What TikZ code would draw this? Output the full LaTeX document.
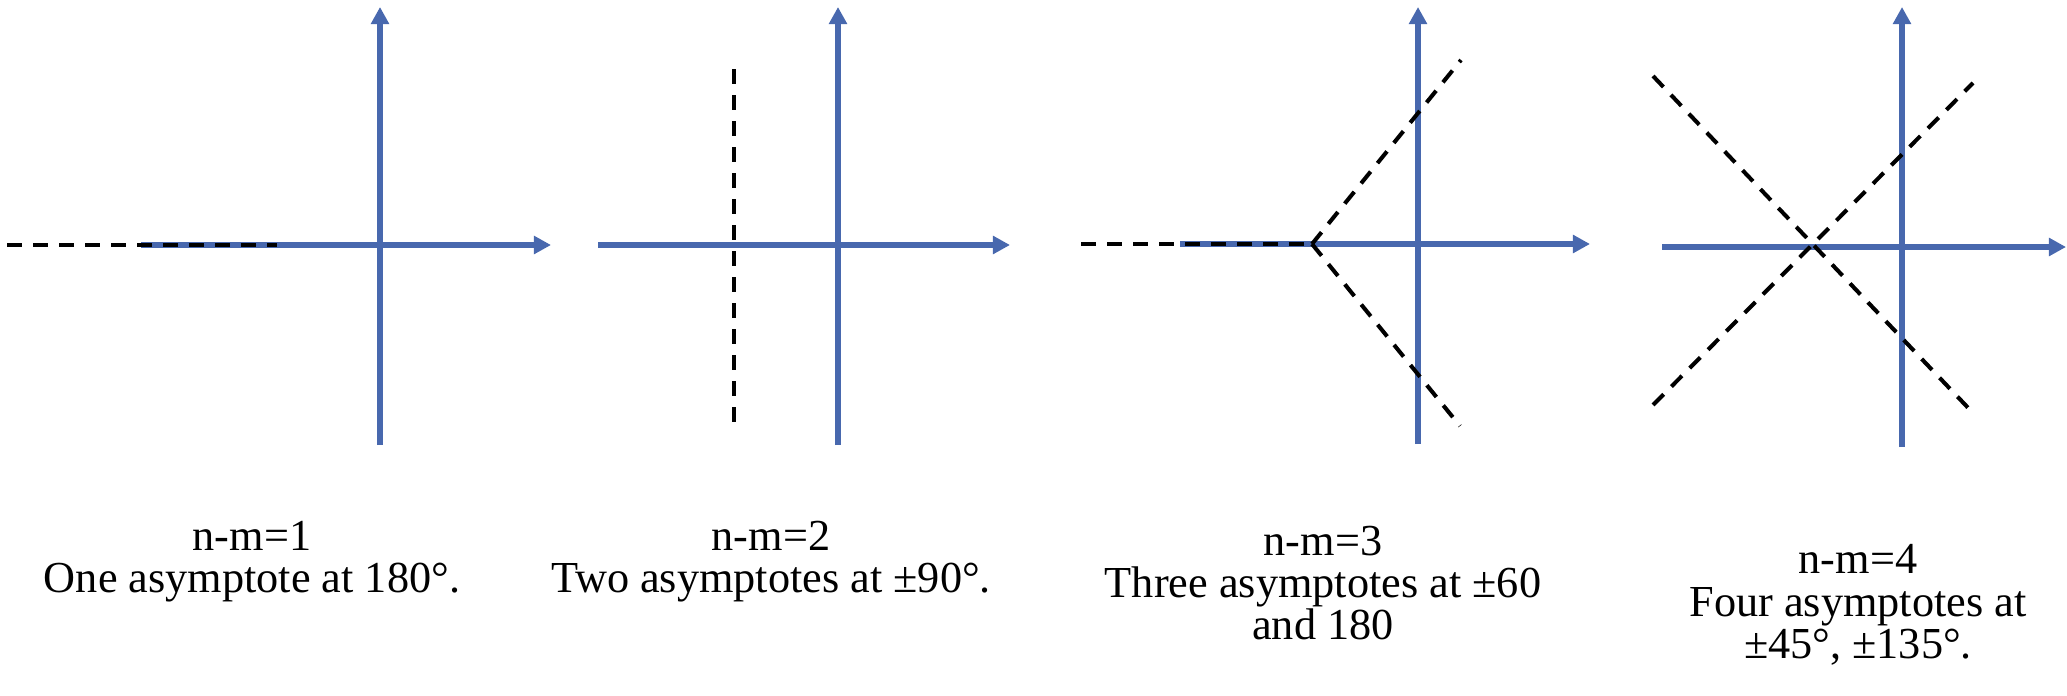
\documentclass[tikz,border=0pt]{standalone}
\usepackage{fontspec}
\setmainfont{Liberation Serif}
\usepackage{tikz}
\usetikzlibrary{arrows.meta}
\definecolor{axisblue}{RGB}{72, 104, 174}

\tikzset{
  axis/.style={line width=1.7pt, axisblue, -{Triangle[length=4.9pt, width=5pt]}},
  axisplain/.style={line width=1.7pt, axisblue},
  asym/.style={line width=1.15pt, black, dash pattern=on 4.3pt off 3.1pt},
  caption/.style={align=center, font=\fontsize{12.6pt}{12pt}\selectfont}
}

\begin{document}
\begin{tikzpicture}
    \useasboundingbox (0,0) rectangle (20.67,6.95);

    % Case 1: n-m=1
    \coordinate (v1s) at (3.80,2.50);
    \coordinate (v1e) at (3.80,6.88);
    \coordinate (h1s) at (1.41,4.50);
    \coordinate (h1e) at (5.51,4.50);
    \coordinate (a1s) at (0.07,4.50);
    \coordinate (a1e) at (2.77,4.50);
    \draw[axis] (v1s) -- (v1e);
    \draw[axis] (h1s) -- (h1e);
    \draw[asym] (a1s) -- (a1e);
    \node[caption] (t1) at (2.52,1.33) {n-m=1\\One asymptote at 180°.};

    % Case 2: n-m=2
    \coordinate (v2s) at (8.38,2.50);
    \coordinate (v2e) at (8.38,6.88);
    \coordinate (h2s) at (5.98,4.50);
    \coordinate (h2e) at (10.10,4.50);
    \coordinate (a2s) at (7.34,6.26);
    \coordinate (a2e) at (7.34,2.71);
    \draw[axis] (v2s) -- (v2e);
    \draw[axis] (h2s) -- (h2e);
    \draw[asym] (a2s) -- (a2e);
    \node[caption] (t2) at (7.71,1.33) {n-m=2\\Two asymptotes at ±90°.};

    % Case 3: n-m=3
    \coordinate (v3s) at (14.18,2.51);
    \coordinate (v3e) at (14.18,6.88);
    \coordinate (h3s) at (11.80,4.51);
    \coordinate (h3e) at (15.90,4.51);
    \coordinate (c3) at (13.12,4.51);
    \coordinate (a3l) at (10.81,4.51);
    \coordinate (a3u) at (14.61,6.35);
    \coordinate (a3d) at (14.60,2.69);
    \draw[axis] (v3s) -- (v3e);
    \draw[axis] (h3s) -- (h3e);
    \draw[asym] (a3l) -- (c3);
    \draw[asym] (c3) -- (a3u);
    \draw[asym] (c3) -- (a3d);
    \node[caption] (t3) at (13.23,1.12) {n-m=3\\Three asymptotes at ±60\\and 180};

    % Case 4: n-m=4
    \coordinate (v4s) at (19.02,2.48);
    \coordinate (v4e) at (19.02,6.88);
    \coordinate (h4s) at (16.62,4.48);
    \coordinate (h4e) at (20.66,4.48);
    \coordinate (a4a) at (16.53,6.19);
    \coordinate (a4b) at (19.73,2.82);
    \coordinate (a4c) at (16.53,2.90);
    \coordinate (a4d) at (19.73,6.12);
    \draw[axis] (v4s) -- (v4e);
    \draw[axis] (h4s) -- (h4e);
    \draw[asym] (a4a) -- (a4b);
    \draw[asym] (a4c) -- (a4d);
    \node[caption] (t4) at (18.58,0.90) {n-m=4\\Four asymptotes at\\±45°, ±135°.};
\end{tikzpicture}
\end{document}
